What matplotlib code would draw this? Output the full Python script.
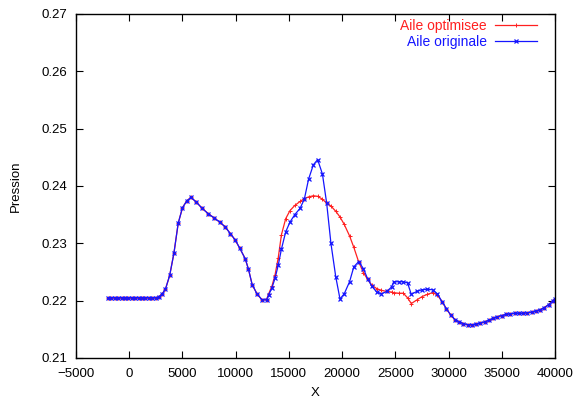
import matplotlib.pyplot as plt

plt.rcParams['font.family'] = ['Liberation Sans', 'DejaVu Sans']
plt.rcParams['font.size'] = 9.5

# abscissa of the computed points
x = [-2000, -1680, -1360, -1040, -720, -400, -80, 240, 560, 880,
     1200, 1520, 1840, 2160, 2480, 2800, 3100, 3400, 3800, 4200,
     4600, 5000, 5400, 5800, 6300, 6800, 7400, 8000, 8500, 9000,
     9500, 9950, 10400, 10900, 11200, 11550, 12000, 12450, 12900, 13100,
     13400, 13700, 14000, 14300, 14700, 15100, 15550, 16050, 16450, 16850,
     17300, 17700, 18150, 18550, 18950, 19400, 19800, 20200, 20700, 21100,
     21550, 22000, 22400, 22800, 23250, 23700, 24200, 24650, 24850, 25300,
     25750, 26150, 26500, 27000, 27500, 28000, 28500, 28950, 29400, 29800,
     30200, 30600, 31000, 31400, 31800, 32200, 32600, 33000, 33400, 33800,
     34200, 34600, 35000, 35400, 35800, 36200, 36600, 37000, 37400, 37800,
     38200, 38600, 39000, 39400, 39800, 40000]

p_orig = [0.2205, 0.2205, 0.2205, 0.2205, 0.2205, 0.2205, 0.2205, 0.2205, 0.2205, 0.2205,
          0.2205, 0.2205, 0.2205, 0.2205, 0.2205, 0.2207, 0.2212, 0.2220, 0.2244, 0.2283,
          0.2335, 0.2362, 0.2374, 0.2380, 0.2372, 0.2362, 0.2352, 0.2344, 0.2337, 0.2329,
          0.2317, 0.2306, 0.2291, 0.2273, 0.2255, 0.2228, 0.2212, 0.2202, 0.2201, 0.2210,
          0.2222, 0.2239, 0.2262, 0.2290, 0.2320, 0.2337, 0.2350, 0.2361, 0.2377, 0.2412,
          0.2437, 0.2446, 0.2421, 0.2370, 0.2300, 0.2242, 0.2203, 0.2212, 0.2233, 0.2259,
          0.2268, 0.2256, 0.2238, 0.2225, 0.2215, 0.2212, 0.2216, 0.2224, 0.2233, 0.2233,
          0.2233, 0.2231, 0.2211, 0.2216, 0.2219, 0.2220, 0.2219, 0.2212, 0.2198, 0.2186,
          0.2175, 0.2167, 0.2163, 0.2160, 0.2158, 0.2158, 0.2159, 0.2161, 0.2163, 0.2166,
          0.2169, 0.2172, 0.2174, 0.2176, 0.2177, 0.2178, 0.2178, 0.2178, 0.2179, 0.2180,
          0.2182, 0.2184, 0.2188, 0.2193, 0.2200, 0.2203]

p_opt = [0.2205, 0.2205, 0.2205, 0.2205, 0.2205, 0.2205, 0.2205, 0.2205, 0.2205, 0.2205,
         0.2205, 0.2205, 0.2205, 0.2205, 0.2205, 0.2207, 0.2212, 0.2220, 0.2244, 0.2283,
         0.2335, 0.2362, 0.2374, 0.2380, 0.2372, 0.2362, 0.2352, 0.2344, 0.2337, 0.2329,
         0.2317, 0.2306, 0.2291, 0.2273, 0.2255, 0.2228, 0.2212, 0.2202, 0.2202, 0.2212,
         0.2225, 0.2245, 0.2275, 0.2315, 0.2343, 0.2357, 0.2366, 0.2373, 0.2378, 0.2381,
         0.2383, 0.2382, 0.2377, 0.2370, 0.2365, 0.2356, 0.2346, 0.2333, 0.2313, 0.2293,
         0.2268, 0.2249, 0.2237, 0.2227, 0.2221, 0.2218, 0.2216, 0.2215, 0.2214, 0.2213,
         0.2213, 0.2205, 0.2195, 0.2201, 0.2207, 0.2211, 0.2214, 0.2210, 0.2198, 0.2186,
         0.2175, 0.2167, 0.2163, 0.2160, 0.2158, 0.2158, 0.2159, 0.2161, 0.2163, 0.2166,
         0.2169, 0.2172, 0.2174, 0.2176, 0.2177, 0.2178, 0.2178, 0.2178, 0.2179, 0.2180,
         0.2182, 0.2184, 0.2188, 0.2193, 0.2200, 0.2203]

xticks = [-5000, 0, 5000, 10000, 15000, 20000, 25000, 30000, 35000, 40000]
yticks = [0.21, 0.22, 0.23, 0.24, 0.25, 0.26, 0.27]

fig = plt.figure(figsize=(5.79, 4.0), dpi=100)
ax = fig.add_axes([0.1313, 0.105, 0.8272, 0.86])

ax.plot(x, p_opt, color='#ff2020', lw=0.9, marker='+', ms=3, mew=0.7,
        label='Aile optimisee')
ax.plot(x, p_orig, color='#1515ff', lw=0.9, marker='x', ms=3.5, mew=0.9,
        label='Aile originale')

ax.set_xlim(-5000, 40000)
ax.set_ylim(0.21, 0.27)
ax.set_xticks(xticks)
ax.set_yticks(yticks)
ax.set_yticklabels(['%.2f' % v for v in yticks])
ax.tick_params(direction='in', top=True, right=True, length=5, width=0.8)
ax.tick_params(axis='x', pad=7)
ax.tick_params(axis='y', pad=6)
for s in ax.spines.values():
    s.set_linewidth(1.0)

ax.set_xlabel('X', labelpad=5)
ax.set_ylabel('Pression', labelpad=14)

ax.legend(loc='upper right', bbox_to_anchor=(0.9625, 0.985), frameon=False,
          markerfirst=False, labelcolor='linecolor', handlelength=3.0,
          borderpad=0, borderaxespad=0, labelspacing=0.15, handletextpad=0.6,
          fontsize=10)

fig.savefig('out.png', dpi=100)
